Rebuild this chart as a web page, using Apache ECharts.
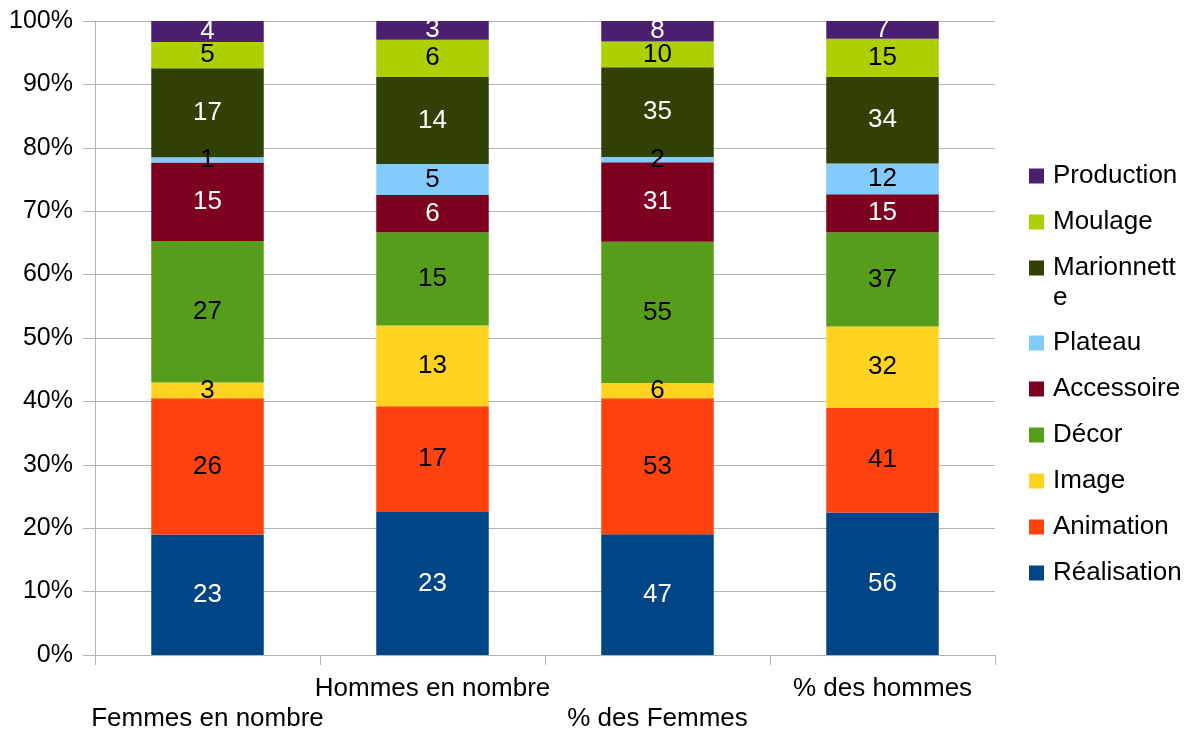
<!DOCTYPE html>
<html>
<head>
<meta charset="utf-8">
<script src="https://cdn.jsdelivr.net/npm/echarts@6/dist/echarts.min.js"></script>
<style>
  html, body { margin: 0; padding: 0; background: #fff; }
  #chart { width: 1191px; height: 731px; }
</style>
</head>
<body>
<div id="chart"></div>
<script>
// Categories along the x axis
const categories = ['Femmes en nombre', 'Hommes en nombre', '% des Femmes', '% des hommes'];

// Raw counts per job family, one value per category
const realisation = [23, 23, 47, 56];
const animation   = [26, 17, 53, 41];
const image       = [3, 13, 6, 32];
const decor       = [27, 15, 55, 37];
const accessoire  = [15, 6, 31, 15];
const plateau     = [1, 5, 2, 12];
const marionnette = [17, 14, 35, 34];
const moulage     = [5, 6, 10, 15];
const production  = [4, 3, 8, 7];

const seriesDefs = [
  { name: 'Réalisation', values: realisation, color: '#004586', label: '#ffffff' },
  { name: 'Animation',   values: animation,   color: '#ff420e', label: '#000000' },
  { name: 'Image',       values: image,       color: '#ffd320', label: '#000000' },
  { name: 'Décor',       values: decor,       color: '#579d1c', label: '#000000' },
  { name: 'Accessoire',  values: accessoire,  color: '#7e0021', label: '#ffffff' },
  { name: 'Plateau',     values: plateau,     color: '#83caff', label: '#000000' },
  { name: 'Marionnette', values: marionnette, color: '#314004', label: '#ffffff' },
  { name: 'Moulage',     values: moulage,     color: '#aecf00', label: '#000000' },
  { name: 'Production',  values: production,  color: '#4b1f6f', label: '#ffffff' }
];

// Column totals, used to stack each column to 100 %
const totals = categories.map((_, i) =>
  seriesDefs.reduce((s, d) => s + d.values[i], 0));

const FONT = "'Liberation Sans', Arial, sans-serif";

const series = seriesDefs.map(d => ({
  name: d.name,
  type: 'bar',
  stack: 'total',
  barWidth: '50%',
  itemStyle: { color: d.color },
  label: {
    show: true,
    position: 'inside',
    color: d.label,
    fontFamily: FONT,
    fontSize: 26,
    formatter: p => String(d.values[p.dataIndex])
  },
  emphasis: { disabled: true },
  data: d.values.map((v, i) => v / totals[i] * 100)
}));

const legendText = {
  fontFamily: FONT, fontSize: 26, color: '#000', lineHeight: 30, padding: [0, 0, 0, 4]
};

const chart = echarts.init(document.getElementById('chart'), null, { renderer: 'canvas' });
chart.setOption({
  animation: false,
  backgroundColor: '#ffffff',
  grid: { left: 95, right: 196, top: 21, bottom: 76, containLabel: false, outerBoundsMode: 'none' },
  xAxis: {
    type: 'category',
    data: categories,
    axisLine: { show: true, lineStyle: { color: '#b3b3b3', width: 1 } },
    axisTick: { show: true, length: 10, alignWithLabel: false, lineStyle: { color: '#b3b3b3' } },
    axisLabel: {
      interval: 0,
      margin: 19,
      fontFamily: FONT,
      fontSize: 26,
      color: '#000',
      lineHeight: 30,
      verticalAlign: 'top',
      formatter: (v, i) => (i % 2 === 0 ? '\n' + v : v)
    }
  },
  yAxis: {
    type: 'value',
    min: 0,
    max: 100,
    interval: 10,
    axisLine: { show: true, lineStyle: { color: '#b3b3b3', width: 1 } },
    axisTick: { show: true, length: 12, lineStyle: { color: '#b3b3b3' } },
    splitLine: { show: true, lineStyle: { color: '#b3b3b3', width: 1 } },
    axisLabel: {
      margin: 22,
      fontFamily: FONT,
      fontSize: 25,
      color: '#000',
      formatter: '{value}%'
    }
  },
  legend: [
    {
      orient: 'vertical',
      left: 1024,
      top: 156,
      itemWidth: 15,
      itemHeight: 15,
      itemGap: 16,
      icon: 'rect',
      selectedMode: false,
      textStyle: legendText,
      formatter: n => (n === 'Marionnette' ? 'Marionnett' : n),
      data: ['Production', 'Moulage', 'Marionnette']
    },
    {
      orient: 'vertical',
      left: 1024,
      top: 323,
      itemWidth: 15,
      itemHeight: 15,
      itemGap: 16,
      icon: 'rect',
      selectedMode: false,
      textStyle: legendText,
      data: ['Plateau', 'Accessoire', 'Décor', 'Image', 'Animation', 'Réalisation']
    }
  ],
  graphic: [
    {
      type: 'text',
      left: 1053,
      top: 285,
      style: { text: 'e', fontFamily: FONT, fontSize: 26, fill: '#000' }
    }
  ],
  series: series
});
</script>
</body>
</html>
